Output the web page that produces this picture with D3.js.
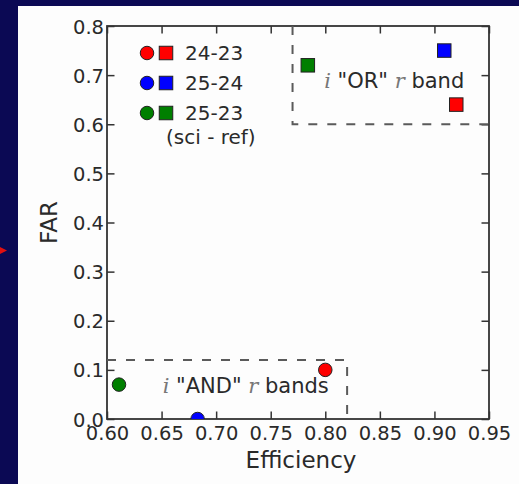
<!DOCTYPE html>
<html>
<head>
<meta charset="utf-8">
<script src="https://cdn.jsdelivr.net/npm/d3@7"></script>
<style>
  html, body { margin: 0; padding: 0; background: #0b0954; }
  svg text { font-family: "DejaVu Sans", sans-serif; }
</style>
</head>
<body>
<div id="chart"></div>
<script>
/*data*/
var seriesNames = ["24-23", "25-24", "25-23"];
var seriesColors = ["#ff0000", "#0000ff", "#007f00"];

/*circles: i "AND" r bands*/
var andEfficiency = [0.800, 0.683, 0.611];
var andFar = [0.100, 0.000, 0.070];

/*squares: i "OR" r band*/
var orEfficiency = [0.920, 0.909, 0.784];
var orFar = [0.640, 0.750, 0.720];

/*dashed region corners*/
var orBoxCorner = [0.77, 0.60];
var andBoxCorner = [0.82, 0.12];

var xTicks = [0.60, 0.65, 0.70, 0.75, 0.80, 0.85, 0.90, 0.95];
var yTicks = [0.0, 0.1, 0.2, 0.3, 0.4, 0.5, 0.6, 0.7, 0.8];

/*svg size and margins*/
var svgWidth = 519;
var svgHeight = 484;
var margin = { top: 26, right: 30, bottom: 65, left: 107 };
var width = 489 - margin.left;
var height = 419 - margin.top;

var svg = d3.select("#chart").append("svg")
  .attr("width", svgWidth)
  .attr("height", svgHeight)
  .style("display", "block");

/*navy frame with white panel*/
svg.append("rect").attr("width", svgWidth).attr("height", svgHeight).attr("fill", "#0b0954");
svg.append("rect").attr("x", 18).attr("y", 6).attr("width", svgWidth - 18).attr("height", svgHeight - 6).attr("fill", "#fdfdfd");

/*little red pointer on the left edge*/
svg.append("path")
  .attr("d", "M0,247 L7,250.5 L0,254 Z")
  .attr("fill", "#e01010");

var g = svg.append("g")
  .attr("transform", `translate(${margin.left},${margin.top})`);

var xScale = d3.scaleLinear().domain([0.60, 0.95]).range([0, width]);
var yScale = d3.scaleLinear().domain([0.0, 0.8]).range([height, 0]);
var colorScale = d3.scaleOrdinal().domain(seriesNames).range(seriesColors);

g.append("clipPath").attr("id", "plotClip")
  .append("rect").attr("width", width).attr("height", height);

/*axes with inward ticks on all four sides*/
var tickLen = 7.5;
var bottomAxis = d3.axisBottom(xScale).tickValues(xTicks).tickFormat(d3.format(".2f")).tickSizeInner(-tickLen).tickSizeOuter(0).tickPadding(7);
var leftAxis = d3.axisLeft(yScale).tickValues(yTicks).tickFormat(d3.format(".1f")).tickSizeInner(-tickLen).tickSizeOuter(0).tickPadding(3);
var topAxis = d3.axisTop(xScale).tickValues(xTicks).tickFormat("").tickSizeInner(-tickLen).tickSizeOuter(0);
var rightAxis = d3.axisRight(yScale).tickValues(yTicks).tickFormat("").tickSizeInner(-tickLen).tickSizeOuter(0);

var axisGroups = [
  g.append("g").attr("transform", `translate(0,${height})`).call(bottomAxis),
  g.append("g").call(leftAxis),
  g.append("g").call(topAxis),
  g.append("g").attr("transform", `translate(${width},0)`).call(rightAxis)
];
axisGroups.forEach(function(ax) {
  ax.select(".domain").remove();
  ax.selectAll(".tick line").attr("stroke", "#333").attr("stroke-width", 1.5);
  ax.selectAll(".tick text").attr("fill", "#2a2a2a").style("font-size", "19.5px");
});
axisGroups[1].selectAll(".tick text").attr("dy", "0.36em");

/*frame*/
g.append("rect")
  .attr("width", width).attr("height", height)
  .attr("fill", "none").attr("stroke", "#333").attr("stroke-width", 1.8);

/*dashed regions*/
var dashStyle = function(sel) {
  return sel.attr("fill", "none").attr("stroke", "#5a5a5a").attr("stroke-width", 2).attr("stroke-dasharray", "9,10");
};
g.append("path").call(dashStyle)
  .attr("d", d3.line()([
    [xScale(orBoxCorner[0]), yScale(0.8)],
    [xScale(orBoxCorner[0]), yScale(orBoxCorner[1])],
    [xScale(0.95), yScale(orBoxCorner[1])]
  ]));
g.append("path").call(dashStyle)
  .attr("d", d3.line()([
    [xScale(0.60), yScale(andBoxCorner[1])],
    [xScale(andBoxCorner[0]), yScale(andBoxCorner[1])],
    [xScale(andBoxCorner[0]), yScale(0.0)]
  ]));

/*region labels, with math-style italic i and r*/
function regionLabel(x, y, word) {
  var t = g.append("text")
    .attr("x", xScale(x)).attr("y", yScale(y))
    .attr("fill", "#2a2a2a").style("font-size", "21px");
  t.append("tspan").text("i").style("font-family", "DejaVu Serif").style("font-style", "italic").attr("fill", "#777");
  t.append("tspan").text(" \"" + word.split(" ")[0] + "\" ");
  t.append("tspan").text("r").style("font-family", "DejaVu Serif").style("font-style", "italic").attr("fill", "#777");
  t.append("tspan").text(" " + word.split(" ")[1]);
}
regionLabel(0.799, 0.674, "OR band");
regionLabel(0.651, 0.053, "AND bands");

/*markers*/
var markerGroup = g.append("g").attr("clip-path", "url(#plotClip)");
var markerSize = 13.5;

markerGroup.selectAll(".and")
  .data(seriesNames)
  .enter()
  .append("circle")
  .attr("class", "and")
  .attr("cx", (d, i) => xScale(andEfficiency[i]))
  .attr("cy", (d, i) => yScale(andFar[i]))
  .attr("r", markerSize / 2)
  .attr("fill", d => colorScale(d))
  .attr("stroke", "#222").attr("stroke-width", 1);

markerGroup.selectAll(".or")
  .data(seriesNames)
  .enter()
  .append("rect")
  .attr("class", "or")
  .attr("x", (d, i) => xScale(orEfficiency[i]) - markerSize / 2)
  .attr("y", (d, i) => yScale(orFar[i]) - markerSize / 2)
  .attr("width", markerSize).attr("height", markerSize)
  .attr("fill", d => colorScale(d))
  .attr("stroke", "#222").attr("stroke-width", 1);

/*legend*/
var legend = g.append("g").attr("transform", "translate(40,27)");
var legendRows = legend.selectAll(".row")
  .data(seriesNames)
  .enter()
  .append("g")
  .attr("class", "row")
  .attr("transform", (d, i) => `translate(0,${i * 30})`);
legendRows.append("circle")
  .attr("r", markerSize / 2)
  .attr("fill", d => colorScale(d))
  .attr("stroke", "#222").attr("stroke-width", 1);
legendRows.append("rect")
  .attr("x", 19 - markerSize / 2).attr("y", -markerSize / 2)
  .attr("width", markerSize).attr("height", markerSize)
  .attr("fill", d => colorScale(d))
  .attr("stroke", "#222").attr("stroke-width", 1);
legendRows.append("text")
  .attr("x", 38).attr("dy", "0.36em")
  .attr("fill", "#2a2a2a").style("font-size", "20px")
  .text(d => d);
legend.append("text")
  .attr("x", 19).attr("y", 91)
  .attr("fill", "#2a2a2a").style("font-size", "20px")
  .text("(sci - ref)");

/*axis labels*/
g.append("text")
  .attr("x", width / 2 + 3).attr("y", height + 49)
  .attr("text-anchor", "middle")
  .attr("fill", "#2a2a2a").style("font-size", "23px")
  .text("Efficiency");
g.append("text")
  .attr("transform", `translate(-50,${height / 2}) rotate(-90)`)
  .attr("text-anchor", "middle")
  .attr("fill", "#2a2a2a").style("font-size", "23px")
  .text("FAR");
</script>
</body>
</html>
